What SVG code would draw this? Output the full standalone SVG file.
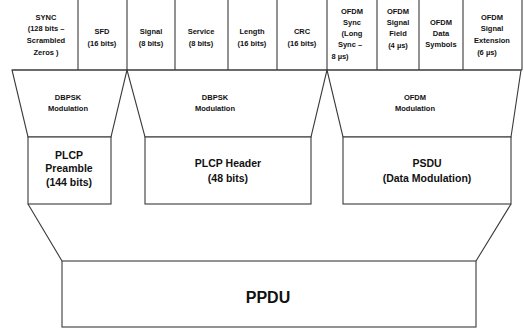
<svg xmlns="http://www.w3.org/2000/svg" width="524" height="330" viewBox="0 0 524 330">
<style>
.ln{stroke:#3a3a3a;stroke-width:1.1;fill:none}
.bx{stroke:#3a3a3a;stroke-width:1.1;fill:#fff}
text{font-family:"Liberation Sans",Arial,sans-serif;fill:#111;text-anchor:middle;font-weight:bold}
.s{font-size:7.5px}
.m{font-size:10.5px}
.l{font-size:16px}
</style>
<rect width="524" height="330" fill="#fff"/>
<g id="connectors">
<path class="ln" d="M78,0V70M127,0V70M175,0V70M228,0V70M277,0V70M327,0V70M377,0V70M419,0V70M463,0V70M522,0V70M12,70H522"/>
<polygon class="ln" points="12,70 127,70 111,137 28,137"/>
<polygon class="ln" points="127,70 327,70 311,137 145,137"/>
<polygon class="ln" points="327,70 521,70 511,137 343,137"/>
<path class="ln" d="M28,204L62,261M511,204L476,261"/>
</g>
<g id="field-sync"><text class="s" x="46" y="20">SYNC</text><text class="s" x="46" y="31">(128 bits –</text><text class="s" x="46" y="43">Scrambled</text><text class="s" x="46" y="55">Zeros )</text></g>
<g id="field-sfd"><text class="s" x="102" y="34">SFD</text><text class="s" x="102" y="46">(16 bits)</text></g>
<g id="field-signal"><text class="s" x="151" y="34">Signal</text><text class="s" x="151" y="46">(8 bits)</text></g>
<g id="field-service"><text class="s" x="201" y="34">Service</text><text class="s" x="201" y="46">(8 bits)</text></g>
<g id="field-length"><text class="s" x="252" y="34">Length</text><text class="s" x="252" y="46">(16 bits)</text></g>
<g id="field-crc"><text class="s" x="302" y="34">CRC</text><text class="s" x="302" y="46">(16 bits)</text></g>
<g id="field-ofdm-sync"><text class="s" x="352" y="14">OFDM</text><text class="s" x="352" y="25">Sync</text><text class="s" x="352" y="36">(Long</text><text class="s" x="350" y="47">Sync –</text><text class="s" x="340" y="59">8 µs)</text></g>
<g id="field-ofdm-signal"><text class="s" x="398" y="14">OFDM</text><text class="s" x="398" y="25">Signal</text><text class="s" x="398" y="36">Field</text><text class="s" x="398" y="48">(4 µs)</text></g>
<g id="field-ofdm-data"><text class="s" x="441" y="25">OFDM</text><text class="s" x="441" y="36">Data</text><text class="s" x="441" y="47">Symbols</text></g>
<g id="field-ofdm-ext"><text class="s" x="492" y="20">OFDM</text><text class="s" x="492" y="31">Signal</text><text class="s" x="492" y="43">Extension</text><text class="s" x="487" y="55">(6 µs)</text></g>
<g id="mod-dbpsk-1"><text class="s" x="68" y="100">DBPSK</text><text class="s" x="68" y="111">Modulation</text></g>
<g id="mod-dbpsk-2"><text class="s" x="215" y="100">DBPSK</text><text class="s" x="215" y="111">Modulation</text></g>
<g id="mod-ofdm"><text class="s" x="415" y="100">OFDM</text><text class="s" x="415" y="111">Modulation</text></g>
<g id="plcp-preamble"><rect class="bx" x="28" y="137" width="83" height="67"/><text class="m" x="69" y="159">PLCP</text><text class="m" x="69" y="172">Preamble</text><text class="m" x="69" y="186">(144 bits)</text></g>
<g id="plcp-header"><rect class="bx" x="145" y="137" width="166" height="67"/><text class="m" x="228" y="167">PLCP Header</text><text class="m" x="228" y="182">(48 bits)</text></g>
<g id="psdu"><rect class="bx" x="343" y="137" width="168" height="67"/><text class="m" x="427" y="167">PSDU</text><text class="m" x="427" y="182">(Data Modulation)</text></g>
<g id="ppdu"><rect class="bx" x="62" y="261" width="414" height="66"/><text class="l" x="268" y="303">PPDU</text></g>
</svg>
